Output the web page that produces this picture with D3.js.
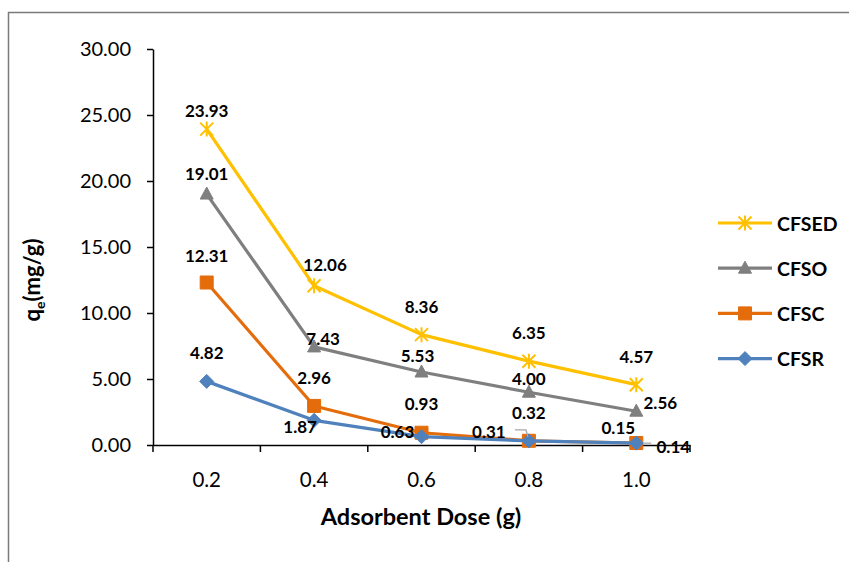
<!DOCTYPE html>
<html>
<head>
<meta charset="utf-8">
<script src="https://cdn.jsdelivr.net/npm/d3@7"></script>
<style>
  html, body { margin: 0; padding: 0; background: #fff; }
  svg { display: block; }
  text { font-family: Lato, "Open Sans", sans-serif; fill: #000; }
</style>
</head>
<body>
<svg id="chart" width="849" height="562"></svg>
<script>
// Adsorbent dose (g) on the category axis
const doses = ["0.2", "0.4", "0.6", "0.8", "1.0"];

// Adsorption capacity q_e (mg/g) per adsorbent
const seriesNames = ["CFSED", "CFSO", "CFSC", "CFSR"];
const cfsed = [23.93, 12.06, 8.36, 6.35, 4.57];
const cfso  = [19.01, 7.43, 5.53, 4.00, 2.56];
const cfsc  = [12.31, 2.96, 0.93, 0.32, 0.15];
const cfsr  = [4.82, 1.87, 0.63, 0.31, 0.14];

// Value-axis ticks
const yTicks = [0, 5, 10, 15, 20, 25, 30];

// Drawing styles
const colors  = { CFSED: "#FFC000", CFSO: "#7F7F7F", CFSC: "#E46C0A", CFSR: "#4F81BD" };
const markers = { CFSED: "star", CFSO: "triangle", CFSC: "square", CFSR: "diamond" };

// Data-label offsets from each point (dx, dy), kept clear of the lines
const labelOffsets = {
  CFSED: [[0, -19], [11, -21], [0, -28], [0, -29], [0, -28]],
  CFSO:  [[0, -21], [9, -8], [-4, -17], [0, -14], [24, -9]],
  CFSC:  [[0, -27], [0, -28], [0, -29], [0, -28], [-18, -16]],
  CFSR:  [[0, -29], [-14, 6], [-24, -5], [-40, -9], [37, 3]]
};

const seriesValues = { CFSED: cfsed, CFSO: cfso, CFSC: cfsc, CFSR: cfsr };

const svg = d3.select("#chart");
const plot = { left: 153, right: 690, top: 49, bottom: 445 };

// Outer chart frame (only top and left edges fall inside the view)
svg.append("path")
  .attr("d", "M8.5,562 V12.5 H849")
  .attr("fill", "none")
  .attr("stroke", "#7a7a7a")
  .attr("stroke-width", 1.5);

const x = d3.scaleBand().domain(doses).range([plot.left, plot.right]).padding(0);
const y = d3.scaleLinear().domain([0, 30]).range([plot.bottom, plot.top]);
const cx = d => x(d) + x.bandwidth() / 2;

// Y axis
const yAxis = svg.append("g")
  .attr("transform", `translate(${plot.left},0)`)
  .call(d3.axisLeft(y).tickValues(yTicks).tickFormat(d3.format(".2f"))
    .tickSize(6).tickSizeOuter(0).tickPadding(16));
yAxis.select(".domain").attr("stroke", "#000").attr("stroke-width", 1.5);
yAxis.selectAll(".tick line").attr("stroke", "#000").attr("stroke-width", 1.5);
yAxis.selectAll(".tick text")
  .style("font-family", "Lato, sans-serif").style("font-size", "20px").attr("fill", "#000");

// X axis: labels at category centres, tick marks at category boundaries
const xAxis = svg.append("g")
  .attr("transform", `translate(0,${plot.bottom})`)
  .call(d3.axisBottom(x).tickSize(0).tickSizeOuter(0).tickPadding(27));
xAxis.select(".domain").attr("stroke", "#000").attr("stroke-width", 1.5);
xAxis.selectAll(".tick text")
  .style("font-family", "Lato, sans-serif").style("font-size", "20.5px").attr("fill", "#000");
const boundaries = doses.map(d => x(d)).concat([x(doses[doses.length - 1]) + x.bandwidth()]);
xAxis.selectAll(".bound")
  .data(boundaries)
  .join("line")
  .attr("class", "bound")
  .attr("x1", d => d).attr("x2", d => d)
  .attr("y1", 0).attr("y2", 7)
  .attr("stroke", "#000").attr("stroke-width", 1.5);

// Axis titles
svg.append("text")
  .attr("x", 421).attr("y", 525)
  .attr("text-anchor", "middle")
  .style("font-size", "23.5px").style("font-weight", "bold")
  .text("Adsorbent Dose (g)");

const yTitle = svg.append("text")
  .attr("transform", "translate(40,280) rotate(-90)")
  .attr("text-anchor", "middle")
  .style("font-size", "22px").style("font-weight", "bold");
yTitle.append("tspan").text("q");
yTitle.append("tspan").attr("dy", 5).style("font-size", "14px").text("e");
yTitle.append("tspan").attr("dy", -5).text("(mg/g)");

// Marker shapes
function markerPath(type) {
  switch (type) {
    case "star": return "M-6.5,-6.5L6.5,6.5M-6.5,6.5L6.5,-6.5M0,-7.5L0,7.5";
    case "triangle": return "M0,-7L6.5,5L-6.5,5Z";
    case "square": return "M-6.5,-6.5H6.5V6.5H-6.5Z";
    case "diamond": return "M0,-7L7,0L0,7L-7,0Z";
  }
}
function drawMarker(g, type, color) {
  const p = g.append("path").attr("d", markerPath(type));
  if (type === "star") p.attr("fill", "none").attr("stroke", color).attr("stroke-width", 2);
  else p.attr("fill", color).attr("stroke", color).attr("stroke-width", 1);
}

const line = d3.line().x(d => cx(d.dose)).y(d => y(d.v));

// Series drawn back to front so CFSR sits on top
const drawOrder = ["CFSED", "CFSO", "CFSC", "CFSR"];
drawOrder.forEach(name => {
  const pts = seriesValues[name].map((v, i) => ({ dose: doses[i], v }));
  svg.append("path")
    .datum(pts)
    .attr("d", line)
    .attr("fill", "none")
    .attr("stroke", colors[name])
    .attr("stroke-width", 3.2)
    .attr("stroke-linejoin", "round");
  pts.forEach(p => {
    const g = svg.append("g").attr("transform", `translate(${cx(p.dose)},${y(p.v)})`);
    drawMarker(g, markers[name], colors[name]);
  });
});

// Leader lines for labels pulled away from their points
const i08 = doses.indexOf("0.8");
svg.append("path")
  .attr("d", d3.line()([[cx(doses[i08]) - 14, y(cfsc[i08]) - 11], [cx(doses[i08]) - 3, y(cfsc[i08]) - 11], [cx(doses[i08]) - 1, y(cfsc[i08]) - 4]]))
  .attr("fill", "none").attr("stroke", "#a6a6a6").attr("stroke-width", 1.3);
const i10 = doses.indexOf("1.0");
svg.append("path")
  .attr("d", d3.line()([[cx(doses[i10]) + 7, y(cfsr[i10])], [cx(doses[i10]) + 15, y(cfsr[i10])]]))
  .attr("fill", "none").attr("stroke", "#a6a6a6").attr("stroke-width", 1.3);

// Data labels
seriesNames.forEach(name => {
  seriesValues[name].forEach((v, i) => {
    const [dx, dy] = labelOffsets[name][i];
    svg.append("text")
      .attr("x", cx(doses[i]) + dx)
      .attr("y", y(v) + dy)
      .attr("text-anchor", "middle")
      .attr("dominant-baseline", "central")
      .style("font-size", "17px").style("font-weight", "bold")
      .text(d3.format(".2f")(v));
  });
});

// Legend
const legend = svg.append("g");
seriesNames.forEach((name, i) => {
  const ly = 223 + i * 45.2;
  const g = legend.append("g").attr("transform", `translate(0,${ly})`);
  g.append("line")
    .attr("x1", 718).attr("x2", 772).attr("y1", 0).attr("y2", 0)
    .attr("stroke", colors[name]).attr("stroke-width", 3.2);
  const m = g.append("g").attr("transform", "translate(745,0)");
  drawMarker(m, markers[name], colors[name]);
  g.append("text")
    .attr("x", 777).attr("y", 0)
    .attr("dominant-baseline", "central")
    .style("font-size", "19.5px").style("font-weight", "bold")
    .text(name);
});
</script>
</body>
</html>
